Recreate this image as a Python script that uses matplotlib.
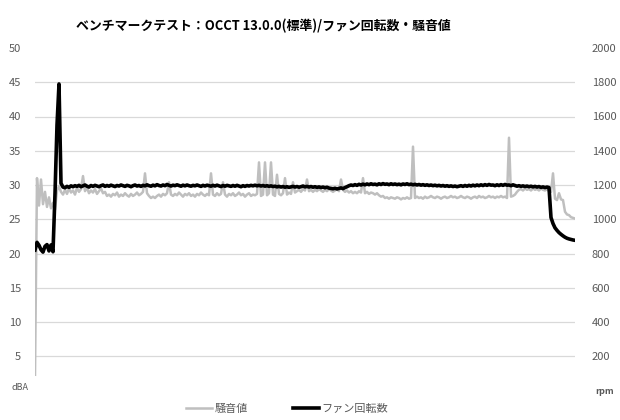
import matplotlib
matplotlib.use('Agg')
import matplotlib.pyplot as plt
import numpy as np

plt.rcParams['font.family'] = ['Noto Sans CJK JP', 'DejaVu Sans']

title = 'ベンチマークテスト：OCCT 13.0.0(標準)/ファン回転数・騒音値'

# noise level (dBA), one sample per step
noise_dba = [
    2.3, 31.0, 27.0, 30.8, 27.2, 29.0, 26.8, 28.2, 26.6, 27.4,
    26.4, 29.2, 29.8, 29.0, 28.6, 29.3, 28.7, 29.5, 28.9, 29.2,
    28.6, 29.6, 29.0, 29.4, 31.3, 29.1, 29.6, 28.8, 29.2, 28.9,
    29.4, 28.7, 29.1, 29.5, 28.8, 29.0, 28.4, 28.6, 28.3, 28.7,
    28.5, 28.9, 28.3, 28.6, 28.4, 28.8, 28.5, 28.3, 28.7, 28.4,
    28.6, 28.9, 28.5, 28.7, 29.0, 31.7, 28.8, 28.4, 28.1, 28.3,
    28.1, 28.4, 28.6, 28.3, 28.7, 28.5, 28.8, 30.4, 28.6, 28.4,
    28.7, 28.5, 28.9, 28.6, 28.3, 28.7, 28.5, 28.8, 28.4, 28.6,
    28.3, 28.7, 28.5, 28.9, 28.6, 28.4, 28.7, 28.5, 31.7, 28.6,
    28.4, 28.8, 28.5, 28.7, 30.4, 28.6, 28.3, 28.7, 28.5, 28.8,
    28.4, 28.6, 28.9, 28.5, 28.7, 28.3, 28.6, 28.8, 28.4, 28.6,
    28.5, 28.7, 33.3, 28.4, 28.6, 33.3, 28.5, 28.8, 33.3, 28.6,
    28.4, 31.5, 28.7, 28.5, 28.8, 31.0, 28.6, 28.9, 28.7, 30.4,
    28.9, 29.1, 29.3, 29.0, 29.4, 29.2, 30.8, 29.1, 29.3, 29.0,
    29.3, 29.1, 29.4, 29.2, 29.0, 29.3, 29.1, 29.4, 29.2, 29.0,
    29.2, 29.4, 29.1, 30.8, 29.3, 29.0, 29.2, 28.9, 29.1, 28.8,
    29.0, 28.8, 29.1, 28.9, 31.0, 28.8, 29.0, 28.7, 28.9, 28.8,
    28.6, 28.8, 28.5, 28.3, 28.4, 28.1, 28.2, 28.0, 28.2, 28.1,
    28.0, 28.2, 28.1, 27.9, 28.1, 28.0, 28.2, 28.0, 28.1, 35.6,
    28.1, 28.3, 28.1, 28.2, 28.0, 28.3, 28.1, 28.2, 28.4, 28.2,
    28.1, 28.3, 28.2, 28.0, 28.2, 28.3, 28.1, 28.2, 28.4, 28.2,
    28.3, 28.1, 28.2, 28.4, 28.2, 28.1, 28.3, 28.2, 28.0, 28.2,
    28.3, 28.1, 28.4, 28.2, 28.3, 28.1, 28.2, 28.4, 28.2, 28.3,
    28.1, 28.3, 28.2, 28.4, 28.2, 28.3, 28.1, 36.9, 28.3, 28.4,
    28.6, 29.0, 29.3, 29.4, 29.2, 29.5, 29.3, 29.4, 29.2, 29.5,
    29.3, 29.4, 29.2, 29.5, 29.3, 29.2, 29.4, 29.1, 29.0, 31.7,
    28.0, 27.8, 28.8, 27.9, 27.8, 26.1, 25.7, 25.6, 25.3, 25.2,
    25.1,
]

# fan speed (rpm), same sampling
fan_rpm = [
    820, 865, 848, 822, 808, 842, 852, 815, 850, 810,
    1150, 1550, 1790, 1210, 1188, 1184, 1192, 1186, 1195, 1190,
    1196, 1192, 1198, 1190, 1195, 1200, 1193, 1188, 1197, 1192,
    1198, 1194, 1190, 1196, 1200, 1192, 1197, 1193, 1199, 1195,
    1191, 1197, 1194, 1200, 1196, 1192, 1198, 1195, 1190, 1196,
    1200, 1194, 1197, 1192, 1198, 1195, 1201, 1196, 1193, 1199,
    1195, 1202, 1197, 1194, 1200, 1196, 1203, 1198, 1194, 1199,
    1196, 1201, 1197, 1193, 1199, 1195, 1200, 1196, 1193, 1198,
    1195, 1200, 1196, 1192, 1198, 1194, 1199, 1196, 1193, 1198,
    1194, 1199, 1195, 1191, 1197, 1193, 1198, 1195, 1192, 1197,
    1193, 1198, 1194, 1190, 1196, 1192, 1197, 1194, 1198, 1195,
    1199, 1195, 1198, 1194, 1197, 1193, 1196, 1192, 1195, 1191,
    1193, 1189, 1192, 1188, 1191, 1187, 1190, 1186, 1189, 1192,
    1188, 1191, 1187, 1190, 1194, 1189, 1192, 1188, 1191, 1187,
    1190, 1186, 1189, 1185, 1188, 1184, 1187, 1182, 1180, 1178,
    1181, 1177, 1180, 1183, 1179, 1185, 1190, 1196, 1200, 1197,
    1202, 1198, 1204, 1200, 1205, 1201, 1206, 1202, 1207, 1203,
    1205, 1201, 1207, 1203, 1208, 1204, 1206, 1202, 1207, 1203,
    1206, 1202, 1205, 1201, 1206, 1203, 1207, 1202, 1205, 1201,
    1204, 1200, 1203, 1199, 1202, 1198, 1201, 1197, 1200, 1196,
    1199, 1195, 1198, 1194, 1197, 1193, 1196, 1192, 1195, 1191,
    1194, 1190, 1193, 1196, 1192, 1197, 1193, 1198, 1194, 1199,
    1195, 1200, 1196, 1201, 1197, 1202, 1198, 1203, 1199, 1200,
    1196, 1201, 1197, 1202, 1198, 1203, 1199, 1200, 1196, 1201,
    1197, 1193, 1196, 1192, 1195, 1191, 1194, 1190, 1193, 1189,
    1192, 1188, 1191, 1186, 1189, 1185, 1188, 1185, 1010, 975,
    950, 935, 922, 912, 903, 895, 889, 885, 882, 879,
    877,
]

left_ticks = [0, 5, 10, 15, 20, 25, 30, 35, 40, 45, 50]
left_labels = ['', '5', '10', '15', '20', '25', '30', '35', '40', '45', '50']
right_ticks = [0, 200, 400, 600, 800, 1000, 1200, 1400, 1600, 1800, 2000]
right_labels = ['', '200', '400', '600', '800', '1000', '1200', '1400', '1600', '1800', '2000']

grey_txt = '#595959'

fig = plt.figure(figsize=(6.2, 4.2), dpi=100)
ax = fig.add_axes([35 / 620, 29.5 / 420, 540 / 620, 342.5 / 420])
ax2 = ax.twinx()

x = np.arange(len(noise_dba))
l1, = ax.plot(x, noise_dba, color='#BFBFBF', lw=1.8, label='騒音値')
l2, = ax2.plot(x, fan_rpm, color='black', lw=2.6, label='ファン回転数')

ax.set_xlim(0, len(noise_dba) - 1)
ax.set_ylim(0, 50)
ax2.set_ylim(0, 2000)

ax.set_yticks(left_ticks)
ax.set_yticklabels(left_labels)
ax2.set_yticks(right_ticks)
ax2.set_yticklabels(right_labels)
ax.set_xticks([])

ax.set_axisbelow(True)
ax.yaxis.grid(True, color='#D9D9D9', lw=0.9)
gl = ax.get_ygridlines()
gl[0].set_visible(False)
gl[-1].set_visible(False)

for a in (ax, ax2):
    [a.spines[s].set_visible(False) for s in a.spines]
ax.tick_params(axis='y', length=0, labelsize=8, labelcolor=grey_txt, pad=10)
ax2.tick_params(axis='y', length=0, labelsize=8, labelcolor=grey_txt, pad=12)

fig.text(28 / 620, 1 - 388 / 420, 'dBA', ha='right', va='center', fontsize=6.5, color=grey_txt)
fig.text(595 / 620, 1 - 392 / 420, 'rpm', ha='left', va='center', fontsize=6.5,
         color=grey_txt, weight='bold')

fig.text(263.5 / 620, 1 - 26 / 420, title, ha='center', va='center', fontsize=9.3,
         weight='bold', color='black')

fig.legend([l1, l2], ['騒音値', 'ファン回転数'], loc='center', bbox_to_anchor=(287 / 620, 11 / 420),
           ncol=2, frameon=False, fontsize=8, handlelength=2.4, handletextpad=0.2,
           columnspacing=4.0, labelcolor=grey_txt)

fig.savefig('out.png', dpi=100)
